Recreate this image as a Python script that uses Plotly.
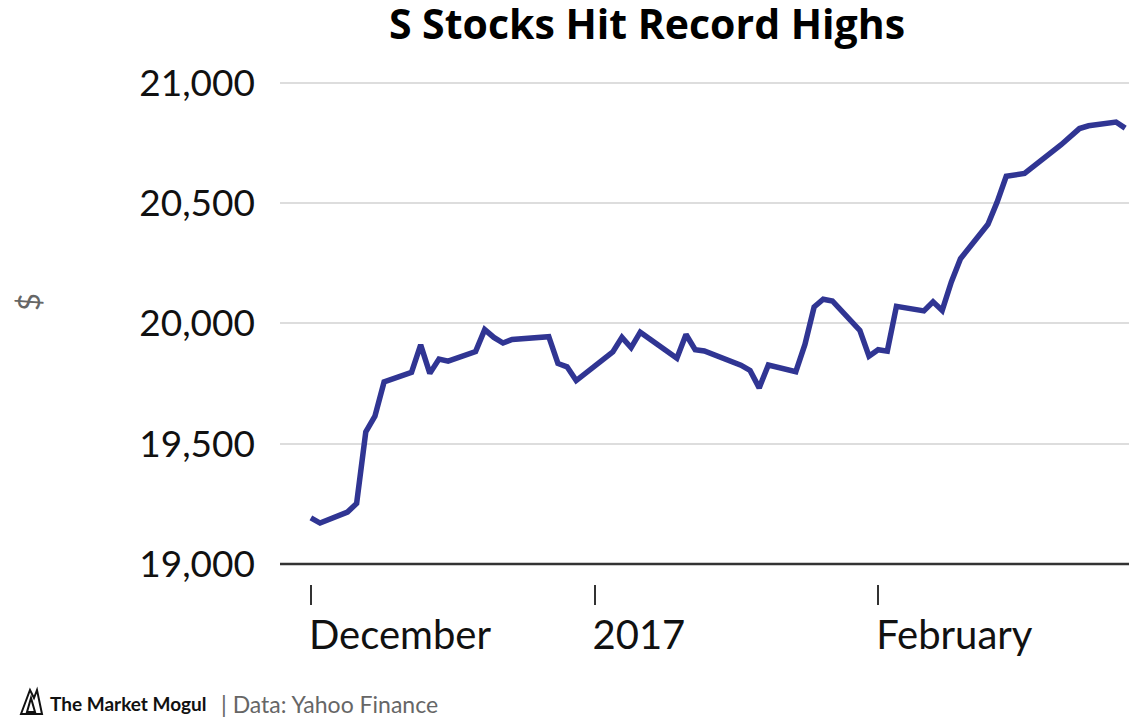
import plotly.graph_objects as go

dates = [
    "2016-12-01", "2016-12-02", "2016-12-05", "2016-12-06", "2016-12-07", "2016-12-08", "2016-12-09",
    "2016-12-12", "2016-12-13", "2016-12-14", "2016-12-15", "2016-12-16", "2016-12-19", "2016-12-20",
    "2016-12-21", "2016-12-22", "2016-12-23", "2016-12-27", "2016-12-28", "2016-12-29", "2016-12-30",
    "2017-01-03", "2017-01-04", "2017-01-05", "2017-01-06", "2017-01-09", "2017-01-10", "2017-01-11",
    "2017-01-12", "2017-01-13", "2017-01-17", "2017-01-18", "2017-01-19", "2017-01-20", "2017-01-23",
    "2017-01-24", "2017-01-25", "2017-01-26", "2017-01-27", "2017-01-30", "2017-01-31", "2017-02-01",
    "2017-02-02", "2017-02-03", "2017-02-06", "2017-02-07", "2017-02-08", "2017-02-09", "2017-02-10",
    "2017-02-13", "2017-02-14", "2017-02-15", "2017-02-16", "2017-02-17", "2017-02-21", "2017-02-22",
    "2017-02-23", "2017-02-24", "2017-02-27", "2017-02-28",
]
closes = [
    19191.93, 19170.42, 19216.24, 19251.78, 19549.62, 19614.81, 19756.85,
    19796.43, 19911.21, 19792.53, 19852.24, 19843.41, 19883.06, 19974.62,
    19941.96, 19918.88, 19933.81, 19945.04, 19833.68, 19819.78, 19762.60,
    19881.76, 19942.16, 19899.29, 19963.80, 19887.38, 19855.53, 19954.28,
    19891.00, 19885.73, 19826.77, 19804.72, 19732.40, 19827.25, 19799.85,
    19912.71, 20068.51, 20100.91, 20093.78, 19971.13, 19864.09, 19890.94,
    19884.91, 20071.46, 20052.42, 20090.29, 20054.34, 20172.40, 20269.37,
    20412.16, 20504.41, 20611.86, 20619.77, 20624.05, 20743.00, 20775.60,
    20810.32, 20821.76, 20837.44, 20812.24,
]
x_tickvals = ["2016-12-01", "2017-01-01", "2017-02-01"]
x_ticktext = ["December", "2017", "February"]
y_tickvals = [19000, 19500, 20000, 20500, 21000]
y_ticktext = ["19,000", "19,500", "20,000", "20,500", "21,000"]

title_text = "S Stocks Hit Record Highs"
y_title = "$"
brand = "The Market Mogul"
source = "| Data: Yahoo Finance"

# the page body has an 8px margin; the figure is sized to end at the window edge
OFF = 8
W, H = 1137 - OFF, 718 - OFF
L, R, T, B = 280 - OFF, 0, 75 - OFF, 718 - 584
PW, PH = W - L - R, H - T - B


def px(xp):
    return (xp - OFF - L) / PW


def py(yp):
    return (H - B - (yp - OFF)) / PH


fig = go.Figure()
fig.add_trace(go.Scatter(
    x=dates, y=closes, mode="lines",
    line=dict(color="#303593", width=5.5),
    hoverinfo="skip",
))

fig.update_layout(
    width=W, height=H,
    margin=dict(l=L, r=R, t=T, b=B, pad=0),
    paper_bgcolor="white", plot_bgcolor="white",
    showlegend=False,
    font=dict(family="Lato, sans-serif", color="#111111"),
    title=dict(
        text=title_text, x=(647 - OFF) / W, xref="container", xanchor="center",
        y=1 - 17 / H, yref="container", yanchor="middle",
        font=dict(family="Open Sans, sans-serif", size=41, color="#000000", weight=700),
    ),
    xaxis=dict(
        type="date",
        range=["2016-11-27 15:00", "2017-03-01 07:00"],
        tickvals=x_tickvals, ticktext=x_ticktext,
        ticks="outside", ticklen=20, tickwidth=2, tickcolor="#333333",
        ticklabelposition="outside right", ticklabelstandoff=16, ticklabelshift=-3,
        tickfont=dict(size=40, color="#111111"),
        showgrid=False, showline=False, zeroline=False,
    ),
    yaxis=dict(
        range=[18917, 21033],
        tickvals=y_tickvals, ticktext=y_ticktext,
        ticks="", ticklabelstandoff=24,
        tickfont=dict(size=37, color="#111111"),
        showgrid=True, gridcolor="#dddddd", gridwidth=2,
        showline=False, zeroline=False,
    ),
)

# dark baseline at 19,000
fig.add_shape(type="line", xref="paper", yref="y", x0=0, x1=1, y0=19000, y1=19000,
              line=dict(color="#333333", width=2.5), layer="above")

fig.add_annotation(
    text=y_title, textangle=-90, xref="paper", yref="paper",
    x=px(28), y=py(302), xanchor="center", yanchor="middle", showarrow=False,
    font=dict(family="Lato, sans-serif", size=31, color="#666666"),
)

# footer
fig.add_annotation(
    text="<b>" + brand + "</b>", xref="paper", yref="paper",
    x=px(48), y=py(703), xanchor="left", yanchor="middle", showarrow=False,
    font=dict(family="Lato, sans-serif", size=19, color="#111111"),
)
fig.add_annotation(
    text=source, xref="paper", yref="paper",
    x=px(219), y=py(704), xanchor="left", yanchor="middle", showarrow=False,
    font=dict(family="Lato, sans-serif", size=23, color="#666666"),
)
# logo outline
fig.add_shape(
    type="path", xref="paper", yref="paper",
    path="M {a},{b} L {c},{d} L {e},{f} L {g},{h} L {i},{j} Z".format(
        a=px(21), b=py(714), c=px(30), d=py(690), e=px(34), f=py(698),
        g=px(37), h=py(690), i=px(42), j=py(714)),
    line=dict(color="#111111", width=2), fillcolor="rgba(0,0,0,0)",
)
fig.add_shape(
    type="path", xref="paper", yref="paper",
    path="M {a},{b} L {c},{d} L {e},{f} Z".format(
        a=px(27), b=py(712), c=px(31), d=py(698), e=px(35), f=py(712)),
    line=dict(color="#111111", width=2), fillcolor="rgba(0,0,0,0)",
)

fig.write_html("out.html")
